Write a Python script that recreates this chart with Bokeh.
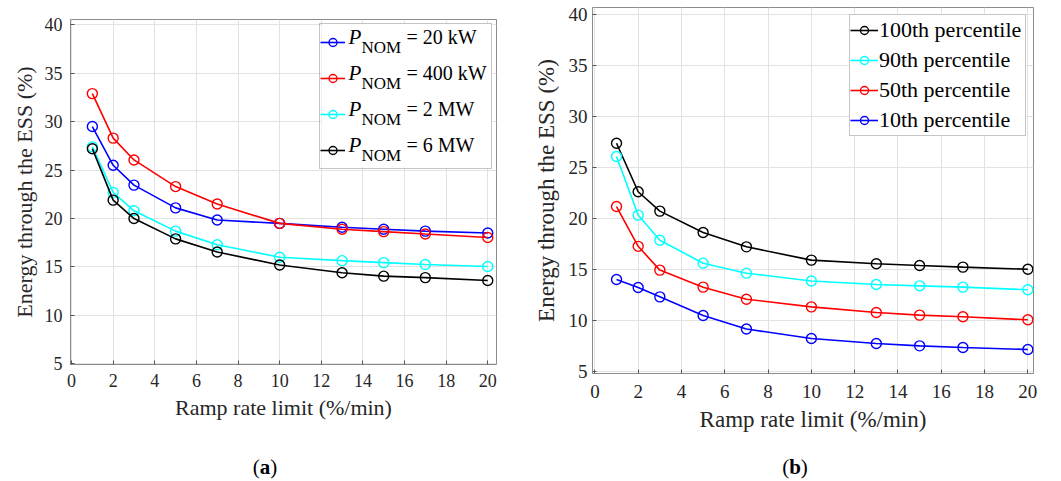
from bokeh.plotting import figure
from bokeh.layouts import row, column
from bokeh.models import (Range1d, FixedTicker, Legend, LegendItem, Label, Div,
                          BoxAnnotation)
from bokeh.embed import file_html
from bokeh.resources import INLINE

# ---------------- data ----------------
ramp = [1, 2, 3, 5, 7, 10, 13, 15, 17, 20]

# panel (a): nominal power
pnom_values = ["= 20 kW", "= 400 kW", "= 2 MW", "= 6 MW"]
pnom_colors = ["#0000ff", "#ff0000", "#00ffff", "#000000"]
e_20kw = [29.5, 25.5, 23.45, 21.1, 19.85, 19.5, 19.1, 18.9, 18.7, 18.5]
e_400kw = [32.9, 28.3, 26.05, 23.3, 21.5, 19.5, 18.9, 18.65, 18.4, 18.05]
e_2mw = [27.4, 22.7, 20.8, 18.7, 17.3, 16.0, 15.65, 15.45, 15.25, 15.05]
e_6mw = [27.2, 21.9, 20.0, 17.9, 16.55, 15.2, 14.4, 14.05, 13.9, 13.6]
pnom_series = [e_20kw, e_400kw, e_2mw, e_6mw]

# panel (b): percentiles
pct_labels = ["100th percentile", "90th percentile", "50th percentile", "10th percentile"]
pct_colors = ["#000000", "#00ffff", "#ff0000", "#0000ff"]
p100 = [27.4, 22.65, 20.75, 18.66, 17.25, 15.95, 15.6, 15.42, 15.26, 15.05]
p90 = [26.1, 20.36, 17.9, 15.65, 14.67, 13.9, 13.56, 13.43, 13.3, 13.04]
p50 = [21.2, 17.3, 14.97, 13.3, 12.12, 11.37, 10.82, 10.56, 10.4, 10.1]
p10 = [14.05, 13.27, 12.35, 10.52, 9.2, 8.27, 7.78, 7.55, 7.39, 7.19]
pct_series = [p100, p90, p50, p10]

x_ticks = [0, 2, 4, 6, 8, 10, 12, 14, 16, 18, 20]
y_ticks = [5, 10, 15, 20, 25, 30, 35, 40]
x_label = "Ramp rate limit (%/min)"
y_label = "Energy through the ESS (%)"

FONT = "Liberation Serif"
AXIS_COL = "#8c8c8c"
TEXT_COL = "#262626"


def make_fig(W, H, bl, br, bt, bb, xr, yr, tick_fs, lab_fs, tick_sd_x, tick_sd_y,
             lab_sd_x, lab_sd_y):
    p = figure(width=W, height=H, output_backend="svg", toolbar_location=None,
               title=None, x_range=Range1d(*xr), y_range=Range1d(*yr),
               min_border_left=bl, min_border_right=br,
               min_border_top=bt, min_border_bottom=bb)
    p.background_fill_color = "white"
    p.border_fill_color = "white"
    p.outline_line_color = AXIS_COL
    p.outline_line_width = 1
    p.xaxis.ticker = FixedTicker(ticks=x_ticks)
    p.yaxis.ticker = FixedTicker(ticks=y_ticks)
    p.xaxis.axis_label = x_label
    p.yaxis.axis_label = y_label
    for ax in p.axis:
        ax.axis_line_color = AXIS_COL
        ax.major_tick_line_color = "#555555"
        ax.major_tick_in = 4
        ax.major_tick_out = 0
        ax.minor_tick_line_color = None
        ax.major_label_text_font = FONT
        ax.major_label_text_font_size = f"{tick_fs}px"
        ax.major_label_text_color = TEXT_COL
        ax.axis_label_text_font = FONT
        ax.axis_label_text_font_size = f"{lab_fs}px"
        ax.axis_label_text_font_style = "normal"
        ax.axis_label_text_color = TEXT_COL
    p.xaxis.major_label_standoff = tick_sd_x
    p.yaxis.major_label_standoff = tick_sd_y
    p.xaxis.axis_label_standoff = lab_sd_x
    p.yaxis.axis_label_standoff = lab_sd_y
    p.grid.grid_line_color = "#e2e2e2"
    p.grid.grid_line_width = 1
    return p


def add_series(p, ys, color):
    ln = p.line(ramp, ys, line_color=color, line_width=1.6)
    sc = p.scatter(ramp, ys, marker="circle", size=10, line_color=color,
                   fill_color=None, line_width=1.4)
    return [ln, sc]


def caption(letter, W, H, pad):
    return Div(text=f"(<b>{letter}</b>)", width=W, height=H, margin=0,
               styles={"font-family": FONT, "font-size": "21px", "color": "black",
                       "text-align": "center", "line-height": "22px",
                       "padding-top": f"{pad}px", "box-sizing": "border-box"})


# ---------------- panel (a) ----------------
WA, HA, BLA, BRA, BTA, BBA = 530, 440, 70, 34, 19, 76
XRA, YRA = (-0.05, 20.42), (4.93, 40.55)
pa = make_fig(WA, HA, BLA, BRA, BTA, BBA, XRA, YRA, 18, 22, 9, 8, 5, 5)
items_a = []
for ys, col in zip(pnom_series, pnom_colors):
    items_a.append(LegendItem(label=" ", renderers=add_series(pa, ys, col)))

LA_ROW, LA_GLW, LA_LBW, LA_MARGIN = 36, 25, 146, 4
leg_a = Legend(items=items_a, location="top_right", margin=LA_MARGIN, padding=0,
               spacing=0, glyph_width=LA_GLW, glyph_height=20, label_width=LA_LBW,
               label_height=LA_ROW, label_standoff=0, border_line_color=AXIS_COL,
               border_line_width=1, background_fill_alpha=0,
               label_text_font=FONT, label_text_font_size="20px")
pa.add_layout(leg_a)

fa_w = WA - BLA - BRA
fa_h = HA - BTA - BBA
box_w = LA_GLW + LA_LBW
box_h = 4 * LA_ROW
box_left = fa_w - LA_MARGIN - box_w


def sx2x(sx):
    return XRA[0] + sx / fa_w * (XRA[1] - XRA[0])


def sy2y(sy):
    return YRA[0] + sy / fa_h * (YRA[1] - YRA[0])


# white backdrop for the legend (under the data, over the grid)
pa.add_layout(BoxAnnotation(left=sx2x(box_left), right=sx2x(box_left + box_w),
                            top=sy2y(fa_h - LA_MARGIN),
                            bottom=sy2y(fa_h - LA_MARGIN - box_h),
                            fill_color="white", fill_alpha=1.0, line_color=None,
                            level="underlay"))

tx = box_left + LA_GLW + 2
for i, txt in enumerate(pnom_values):
    yc = fa_h - (LA_MARGIN + (i + 0.5) * LA_ROW)
    pa.add_layout(Label(x=tx, y=yc + 5, x_units="screen", y_units="screen", text="P",
                        text_font=FONT, text_font_size="21px", text_font_style="italic",
                        text_color="black", text_baseline="middle"))
    pa.add_layout(Label(x=tx + 13, y=yc - 6, x_units="screen", y_units="screen",
                        text="NOM", text_font=FONT, text_font_size="17px",
                        text_color="black", text_baseline="middle"))
    pa.add_layout(Label(x=tx + 58, y=yc + 5, x_units="screen", y_units="screen",
                        text=txt, text_font=FONT, text_font_size="20px",
                        text_color="black", text_baseline="middle"))

# ---------------- panel (b) ----------------
WB, HB, BLB, BRB, BTB, BBB = 530, 440, 59, 27, 7, 67
XRB, YRB = (-0.11, 20.26), (4.84, 40.7)
pb = make_fig(WB, HB, BLB, BRB, BTB, BBB, XRB, YRB, 19, 23, 11, 5, 6, 7)
items_b = []
for ys, col, lab in zip(pct_series, pct_colors, pct_labels):
    items_b.append(LegendItem(label=lab, renderers=add_series(pb, ys, col)))
leg_b = Legend(items=items_b, location="top_right", margin=7, padding=0, spacing=0,
               glyph_width=28, glyph_height=20, label_width=146, label_height=30,
               label_standoff=1, border_line_color=AXIS_COL, border_line_width=1,
               background_fill_color="white", background_fill_alpha=1.0,
               label_text_font=FONT, label_text_font_size="22px",
               label_text_color="black", label_text_baseline="middle")
pb.add_layout(leg_b)

layout = row(column(pa, caption("a", WA, 40, 16), spacing=0),
             column(pb, caption("b", WB, 40, 16), spacing=0), spacing=0)
open("out.html", "w").write(file_html(layout, INLINE))
